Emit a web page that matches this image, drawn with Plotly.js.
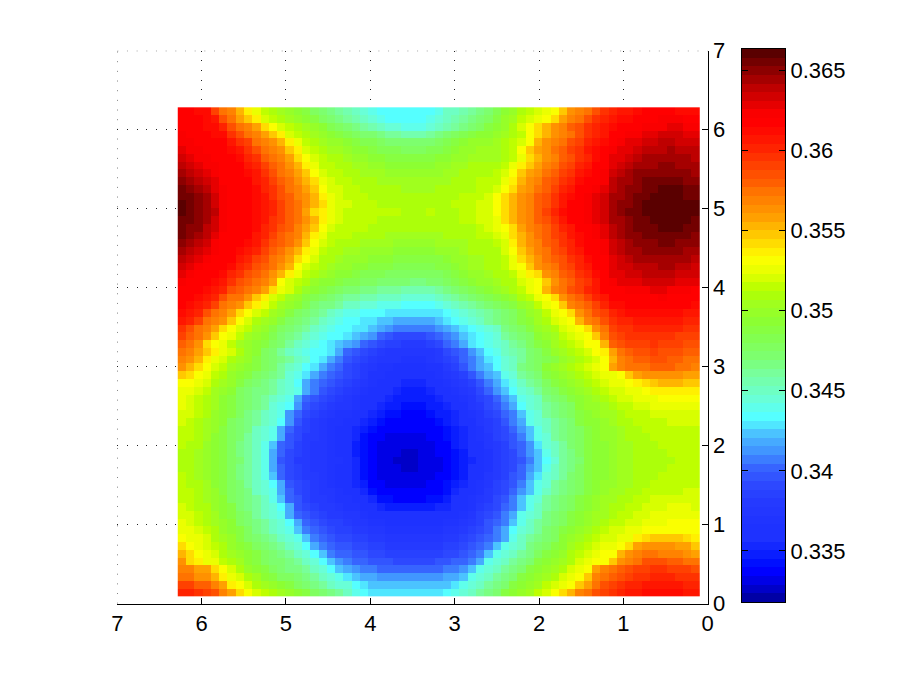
<!DOCTYPE html>
<html>
<head>
<meta charset="utf-8">
<script src="https://cdn.plot.ly/plotly-3.0.1.min.js"></script>
<style>
    html, body { margin: 0; padding: 0; background: #fff; }
</style>
</head>
<body>
<div id="output" style="width:905px;height:681px;"></div>
<script>
// colour band (0-63) of each cell, top row first, left column first
const bandRows = [
[55,55,54,54,50,47,46,43,40,38, 36,35,34,33,32,31,29,28,27,26, 25,24,23,22,21,21,21,21,21,21, 21,22,24,24,25,26,27,28,30,32, 33,35,36,37,38,39,42,45,46,47, 49,51,52,53,53,54,55,55,55,55,54,54,54],
[55,55,55,54,53,49,47,44,42,40, 37,36,35,34,33,32,31,29,28,27, 26,25,24,23,22,21,21,21,21,21, 22,23,24,25,26,27,28,29,31,33, 34,36,37,38,39,41,44,46,47,49, 51,52,53,54,54,55,55,55,56,56,56,55,55],
[55,55,55,54,54,52,49,47,46,44, 41,39,37,36,35,34,33,32,30,29, 28,27,26,25,24,23,23,22,22,22, 23,24,25,26,27,28,29,31,32,33, 35,37,39,41,43,45,46,48,49,51, 52,53,54,55,55,55,56,56,56,57,57,56,56],
[56,55,55,55,54,54,51,49,47,46, 44,42,40,37,36,35,34,33,32,31, 30,29,28,28,27,26,26,25,25,25, 26,27,28,29,30,31,32,32,33,34, 35,36,39,41,43,45,46,47,49,51, 52,53,55,55,56,56,57,57,58,58,58,57,57],
[56,56,55,55,55,55,53,51,50,47, 46,45,43,40,38,36,35,34,33,33, 32,31,30,30,29,28,28,28,28,28, 28,29,30,31,32,33,33,33,34,35, 36,37,39,43,45,46,47,49,50,52, 53,54,55,56,57,57,58,58,59,59,58,58,58],
[57,56,56,55,55,55,54,53,51,49, 47,46,45,42,40,37,36,35,34,34, 33,32,32,31,30,30,30,29,29,29, 30,30,31,32,33,33,34,34,34,35, 36,39,42,44,45,47,48,50,51,53, 54,55,56,57,57,58,59,59,59,60,59,59,59],
[58,57,56,56,55,55,55,54,52,51, 48,47,46,44,41,39,37,36,35,35, 34,33,33,32,32,31,31,31,31,31, 31,32,32,33,33,34,34,34,34,35, 36,38,41,43,45,46,48,49,51,52, 54,55,57,57,58,59,60,60,60,60,60,60,59],
[59,58,57,56,56,55,55,55,53,52, 50,48,47,45,43,40,38,36,36,35, 35,34,34,33,33,32,32,32,32,32, 32,33,33,34,34,35,35,35,35,36, 38,40,42,44,46,47,49,50,52,53, 55,55,57,58,59,60,60,60,61,61,60,60,60],
[60,59,58,57,56,55,55,55,54,53, 51,49,47,46,44,42,39,37,36,36, 35,35,34,34,34,33,33,33,33,33, 33,33,34,34,35,35,35,35,36,37, 39,42,44,45,47,48,50,51,53,54, 55,56,58,59,60,61,61,61,61,61,61,61,60],
[61,60,59,58,57,55,55,55,55,53, 52,50,48,47,45,43,41,38,37,36, 36,35,35,35,34,34,34,34,34,34, 34,34,34,35,35,35,36,36,36,38, 40,43,45,46,48,49,51,52,54,55, 55,56,59,60,60,61,62,62,62,62,62,61,61],
[62,61,60,59,57,56,55,55,55,54, 52,51,49,47,46,44,42,39,37,37, 36,36,35,35,35,35,35,34,34,34, 34,35,35,35,35,35,36,36,37,39, 41,44,45,47,48,50,52,53,55,55, 56,57,59,60,61,61,62,62,63,63,63,62,62],
[62,62,61,60,58,56,55,55,55,54, 53,51,49,48,46,45,43,40,38,37, 36,36,36,35,35,35,35,35,35,35, 35,35,35,35,36,36,36,37,39,41, 43,45,46,48,49,51,53,54,55,56, 57,58,60,60,61,62,62,63,63,63,63,62,62],
[63,62,61,60,58,56,55,55,55,54, 53,52,50,48,47,45,43,41,38,37, 37,36,36,36,35,35,35,35,35,35, 35,35,35,36,36,36,37,37,39,41, 43,45,46,48,49,51,53,55,55,56, 57,58,60,61,61,62,63,63,63,63,63,63,63],
[63,62,61,60,59,56,55,55,55,54, 53,52,50,48,47,44,41,40,38,37, 36,36,36,36,36,36,36,35,35,35, 36,35,35,35,36,36,37,37,39,41, 43,45,46,48,50,52,54,55,55,56, 57,58,60,61,62,62,63,63,63,63,63,63,63],
[62,62,61,60,58,56,55,55,55,54, 53,51,50,48,47,45,43,40,38,37, 36,36,36,36,35,35,35,35,35,35, 35,35,35,35,36,36,37,37,38,41, 43,45,46,48,49,51,53,55,55,56, 57,58,60,60,61,62,62,63,63,63,63,63,62],
[62,61,61,59,58,56,55,55,55,54, 52,51,49,48,46,44,42,39,37,36, 36,36,36,35,35,35,35,35,35,35, 35,35,35,35,35,35,36,37,38,39, 41,44,46,47,48,50,52,53,55,55, 56,57,59,60,61,62,62,62,63,63,63,62,62],
[62,61,60,59,57,55,55,55,55,53, 52,50,48,47,46,43,40,38,36,36, 36,35,35,35,35,34,34,34,34,34, 34,34,35,35,35,35,36,36,37,38, 41,43,45,47,48,50,51,53,54,55, 56,57,59,60,61,61,62,62,62,62,62,62,61],
[61,60,59,58,56,55,55,55,54,53, 51,49,48,47,45,42,39,37,36,35, 35,35,34,34,34,34,33,33,33,33, 33,34,34,34,34,35,35,35,36,37, 40,43,45,46,48,49,51,52,54,55, 55,56,58,59,60,61,61,61,62,62,61,61,61],
[60,59,58,57,56,55,55,54,53,52, 50,48,47,45,43,40,38,36,35,35, 34,34,33,33,33,33,32,32,32,32, 32,33,33,33,34,35,35,35,35,37, 39,42,44,46,47,49,50,52,53,55, 55,56,58,59,60,60,61,61,61,61,61,60,60],
[59,58,57,56,55,55,55,53,52,50, 49,47,46,44,41,39,37,35,35,34, 33,33,33,32,32,32,31,31,31,31, 31,31,32,33,33,34,34,35,35,36, 38,41,43,45,47,48,49,51,52,54, 55,55,57,58,59,60,60,60,60,60,60,60,59],
[58,57,56,55,55,55,54,52,51,49, 48,47,45,43,39,37,36,35,34,33, 33,32,32,31,31,31,30,30,30,30, 30,31,31,32,33,34,34,35,35,36, 38,39,42,45,46,47,49,50,52,53, 55,55,57,58,58,59,59,59,60,60,59,59,58],
[57,56,55,55,55,54,52,51,49,48, 47,45,43,40,38,36,35,34,33,32, 32,31,30,30,30,29,29,29,29,29, 29,29,30,31,32,33,33,34,35,35, 36,38,40,41,45,46,48,49,51,52, 54,55,57,57,58,58,59,59,59,59,58,58,58],
[56,55,55,55,54,53,51,49,48,47, 46,44,39,37,36,35,33,32,32,31, 30,30,29,29,28,28,28,28,27,27, 28,28,29,30,31,32,33,33,34,35, 35,37,38,39,42,45,47,48,50,51, 53,55,56,57,57,57,58,58,58,58,57,57,57],
[55,55,55,54,53,52,49,48,47,46, 44,41,38,37,35,33,32,31,30,29, 28,28,27,27,26,26,26,25,25,25, 25,26,27,28,29,30,31,32,33,34, 35,36,38,39,43,46,47,49,50,52, 53,55,55,55,56,56,56,57,57,56,56,56,55],
[55,55,54,53,52,49,47,47,45,42, 40,37,36,34,33,31,30,29,28,27, 26,26,25,25,24,24,24,23,23,23, 23,24,25,26,27,28,29,30,31,32, 33,35,36,38,39,41,45,47,48,50, 52,53,55,55,55,55,55,55,56,55,55,55,55],
[55,54,53,52,50,47,46,45,42,40, 38,36,34,33,32,30,28,27,27,26, 24,24,23,23,22,22,22,21,21,21, 21,22,23,24,25,26,27,28,29,30, 31,33,34,36,38,39,42,46,47,48, 50,52,54,54,55,55,55,55,55,55,55,55,54],
[54,53,52,49,47,46,44,41,39,37, 36,34,33,31,29,28,27,26,24,23, 22,22,21,21,21,20,20,20,20,20, 20,20,21,22,23,24,25,26,27,28, 29,31,33,34,36,38,39,41,45,47, 49,50,52,53,54,54,54,54,54,54,54,53,53],
[53,52,50,47,46,45,42,39,37,35, 34,33,31,29,28,27,26,24,23,22, 21,21,20,20,19,19,18,18,18,18, 18,19,20,21,22,23,24,26,27,28, 29,31,32,34,35,37,38,39,43,46, 47,49,51,52,52,53,53,53,53,53,53,52,52],
[51,49,47,46,44,41,39,37,36,34, 33,31,29,28,27,26,24,23,22,21, 21,20,20,19,18,17,16,16,16,16, 16,17,18,19,20,21,22,23,24,27, 28,29,31,33,34,35,37,38,39,41, 45,47,50,51,51,52,52,52,52,52,52,51,51],
[50,48,47,45,42,39,38,36,34,33, 32,30,28,27,26,24,23,22,21,21, 20,19,18,17,15,14,13,13,13,13, 14,15,16,17,19,20,21,22,23,26, 27,28,29,32,33,34,36,37,38,39, 42,46,49,50,51,51,51,51,51,51,50,50,50],
[48,47,45,41,39,38,36,34,33,32, 31,29,28,26,24,23,22,21,20,19, 18,17,15,14,13,12,12,11,11,11, 12,13,15,16,18,20,21,22,23,24, 26,27,29,31,32,34,35,36,37,39, 39,43,48,49,50,50,50,51,50,50,50,49,49],
[47,46,44,42,40,38,37,35,33,32, 29,28,26,24,23,22,21,21,20,18, 15,14,13,12,11,10,10,10,10,10, 10,11,13,14,15,17,19,21,22,24, 25,26,28,29,31,33,34,35,36,37, 39,40,44,47,48,49,49,50,49,49,49,48,48],
[46,45,43,40,38,37,35,34,33,31, 29,28,27,26,24,23,21,20,18,16, 14,13,12,11,10,10,10,9,9,9, 10,11,12,13,15,16,18,20,21,23, 24,26,28,29,30,31,33,34,35,36, 37,39,43,46,47,48,48,49,49,48,48,47,47],
[45,43,41,39,37,36,34,33,32,31, 29,28,26,24,23,21,20,18,16,15, 13,12,11,10,9,9,8,8,8,8, 9,9,11,12,14,16,18,19,21,23, 24,27,28,29,32,33,34,35,36,37, 38,39,44,46,47,47,47,48,48,48,47,47,46],
[42,41,39,38,36,35,33,32,31,29, 28,27,26,23,22,20,18,16,15,14, 13,12,11,9,9,8,8,7,7,7, 8,9,10,11,12,14,16,18,19,22, 23,26,27,28,31,32,33,34,35,36, 37,38,38,39,42,44,45,45,45,45,45,44,44],
[39,39,38,37,35,34,33,31,29,28, 27,26,24,23,21,18,16,15,14,13, 12,11,10,9,8,7,7,6,6,6, 7,8,9,10,11,12,14,16,18,20, 22,24,26,27,29,31,32,33,34,35, 36,37,38,38,39,40,41,42,43,43,43,42,42],
[38,38,37,36,34,33,32,29,28,27, 27,26,24,23,22,18,16,14,13,12, 11,10,9,8,7,7,6,5,5,5, 6,7,8,9,10,11,13,15,17,19, 21,23,24,26,28,29,31,32,33,34, 35,36,37,37,38,38,39,40,40,40,40,40,40],
[38,37,36,35,34,32,31,29,28,27, 26,24,23,22,18,15,14,13,12,11, 10,9,8,7,7,6,5,5,5,5, 5,6,7,8,9,10,12,13,15,17, 19,22,23,24,27,28,29,31,32,33, 34,35,36,37,37,38,38,38,39,39,39,39,39],
[38,37,36,35,34,32,31,29,28,27, 26,23,22,21,17,14,13,12,11,10, 10,9,8,7,6,5,5,4,4,4, 5,5,6,7,8,10,11,13,14,16, 18,21,23,24,26,27,28,29,32,33, 33,34,35,36,36,37,37,38,38,38,38,38,38],
[37,37,36,35,33,32,31,29,27,26, 24,23,22,17,15,13,12,11,10,9, 9,8,7,6,5,4,4,3,3,3, 4,5,5,6,8,9,10,12,13,15, 16,19,22,23,26,27,28,29,31,32, 33,34,34,35,36,36,36,37,37,37,37,37,37],
[37,36,35,34,33,32,29,28,27,26, 24,23,21,17,14,12,11,10,9,9, 8,7,6,5,4,3,3,3,3,3, 3,4,5,6,7,8,10,11,12,14, 16,18,22,23,24,26,27,28,31,32, 32,33,34,35,35,36,36,36,36,37,37,37,37],
[36,36,35,34,33,31,29,28,27,24, 23,22,18,15,13,12,11,10,9,8, 7,6,5,4,3,3,3,3,3,3, 3,3,4,5,6,8,9,11,12,13, 15,17,19,22,24,26,27,28,29,31, 32,33,33,34,35,35,36,36,36,36,36,36,36],
[36,36,35,34,32,31,29,28,26,24, 23,22,18,14,13,11,11,10,9,8, 7,6,4,3,3,2,2,2,2,2, 3,3,4,5,6,7,9,10,12,13, 14,16,19,22,23,26,27,28,29,31, 32,33,33,34,35,35,35,36,36,36,36,36,36],
[36,35,35,33,32,31,29,27,26,24, 22,19,15,14,12,11,10,10,9,8, 7,5,4,3,2,2,2,2,2,2, 2,3,3,5,6,7,8,10,11,12, 14,15,17,20,23,24,26,28,29,31, 32,32,33,34,34,35,35,35,36,36,36,36,36],
[35,35,34,33,32,31,29,27,26,24, 22,18,15,13,12,11,10,10,9,8, 7,5,4,3,2,2,2,1,1,2, 2,3,3,4,5,7,8,9,11,12, 13,15,17,19,22,24,26,27,29,31, 32,32,33,34,34,35,35,35,35,36,36,36,36],
[35,35,34,33,32,31,29,28,26,24, 22,18,14,13,11,11,10,10,9,9, 8,6,4,3,2,2,1,1,1,2, 2,2,3,4,5,6,8,9,11,12, 13,14,16,19,21,23,26,27,28,31, 32,32,33,34,34,35,35,35,35,35,36,36,36],
[35,35,34,33,32,31,29,27,26,24, 22,18,15,13,12,11,10,10,9,8, 7,6,4,3,2,2,2,1,1,2, 2,2,3,4,5,7,8,9,11,12, 13,15,17,19,22,24,26,27,29,31, 32,32,33,34,34,35,35,35,35,36,36,36,36],
[36,35,34,33,32,31,29,27,26,24, 22,19,15,13,12,11,11,10,9,8, 7,6,4,3,2,2,2,2,2,2, 2,3,3,4,5,7,8,10,11,12, 14,15,18,20,23,24,26,28,29,31, 32,32,33,34,34,35,35,35,36,36,36,36,36],
[36,35,35,34,32,31,29,28,26,24, 23,21,18,14,13,12,11,10,9,8, 7,6,5,3,3,2,2,2,2,2, 3,3,4,5,6,7,9,10,12,13, 14,16,19,22,23,26,27,28,29,31, 32,33,33,34,34,35,35,36,36,36,36,36,36],
[36,36,35,34,33,31,29,28,27,24, 23,22,18,15,13,12,11,10,10,9, 8,7,6,4,3,3,3,3,3,3, 3,3,4,6,7,8,9,11,12,13, 15,17,19,22,24,26,27,28,29,31, 32,33,34,34,35,35,36,36,36,36,36,37,37],
[36,36,35,34,33,32,29,28,27,26, 24,22,19,15,14,12,11,11,10,9, 9,8,7,6,4,4,3,3,3,3, 4,4,5,7,8,9,10,11,13,14, 16,19,22,23,26,27,28,29,31,32, 33,34,34,35,35,36,36,37,37,37,37,37,37],
[37,36,35,35,33,32,31,28,27,26, 24,23,21,18,14,13,12,11,11,10, 9,9,8,7,6,5,5,5,5,5, 5,6,6,7,8,9,11,12,13,15, 16,19,22,24,26,27,28,29,31,32, 33,34,35,35,36,36,37,37,37,38,38,38,37],
[37,37,36,35,34,32,31,29,28,26, 24,23,22,18,15,14,13,12,11,11, 10,10,9,8,8,7,7,7,7,7, 7,7,8,8,9,10,12,13,14,16, 18,22,23,24,27,28,29,31,32,33, 34,34,35,36,36,37,37,38,38,38,38,38,38],
[38,37,36,35,34,33,32,29,28,27, 26,24,23,21,18,15,14,13,12,12, 11,10,10,9,9,8,8,8,8,8, 8,8,9,9,10,11,12,14,15,16, 19,22,24,26,27,28,29,31,32,33, 34,35,36,36,37,37,38,38,38,39,39,39,39],
[38,38,37,36,35,33,32,31,29,27, 26,24,23,22,19,16,15,14,13,12, 12,11,11,10,10,9,9,9,9,9, 9,9,10,10,11,12,13,14,16,18, 21,23,24,26,28,29,31,32,33,34, 35,36,37,37,38,38,39,39,39,39,39,39,39],
[39,38,38,37,35,34,33,31,29,28, 27,26,24,23,22,19,16,15,14,13, 13,12,12,11,11,10,10,10,10,10, 10,10,11,11,12,13,14,15,16,18, 22,24,26,27,28,29,32,33,34,35, 36,37,37,38,38,40,41,42,42,42,42,41,40],
[41,39,38,37,36,35,33,32,31,29, 28,27,26,24,23,21,18,16,15,14, 14,13,13,12,12,11,11,11,11,11, 11,11,12,12,13,14,15,16,19,22, 23,24,27,28,29,31,32,34,35,36, 37,38,38,39,41,44,45,45,45,45,44,44,42],
[43,41,39,38,37,35,34,33,32,31, 29,28,27,26,24,23,21,19,16,15, 15,14,14,13,13,12,12,12,12,12, 12,12,13,13,14,15,16,19,22,23, 24,26,27,29,31,32,33,35,36,37, 38,39,39,43,45,46,47,47,46,46,46,45,44],
[45,41,40,38,38,36,35,34,32,31, 29,28,28,27,26,24,23,21,19,17, 16,15,15,14,14,14,13,13,13,13, 13,14,14,15,15,16,18,22,23,24, 26,27,28,31,32,33,34,35,37,38, 39,39,42,45,46,47,49,49,49,48,48,47,47],
[46,46,44,44,41,39,37,35,33,32, 31,29,28,27,27,26,24,23,21,19, 18,17,16,16,15,15,15,15,15,15, 15,15,16,16,17,19,22,23,24,26, 27,28,31,32,33,34,35,37,38,39, 44,46,47,48,49,50,50,51,51,50,50,50,49],
[47,47,45,45,43,40,38,37,35,34, 32,31,29,29,28,27,26,24,23,22, 20,19,18,18,17,17,17,17,17,17, 17,17,18,18,19,22,23,24,26,27, 28,31,32,33,34,35,37,38,39,42, 46,47,48,49,50,51,51,52,52,52,51,51,51],
[50,50,48,48,46,44,40,39,37,35, 34,33,32,31,29,28,27,26,24,23, 23,21,20,19,19,19,19,19,19,19, 19,19,19,20,22,23,24,26,27,28, 31,32,33,34,36,37,38,39,42,44, 47,49,50,51,52,52,53,53,53,53,53,52,52],
[52,52,51,50,49,46,44,41,39,37, 36,35,34,33,32,31,29,28,27,26, 24,22,21,20,20,20,20,20,20,20, 20,20,21,22,23,24,26,27,28,31, 32,33,34,36,37,39,41,43,46,47, 49,50,51,52,53,53,54,54,54,54,54,53,53]
];

// colorbar bands bottom to top, as they look in the picture
const bandColors = [
[0,0,165],[0,0,200],[0,0,230],[0,0,255],[0,15,255],[10,30,255],[20,40,255],[30,50,255],
[30,50,255],[32,52,255],[35,55,255],[37,58,255],[40,65,255],[45,72,255],[50,85,255],[55,100,255],
[60,125,255],[65,150,255],[70,170,255],[75,195,255],[80,230,255],[85,255,255],[95,255,235],[105,255,215],
[110,255,195],[115,255,175],[120,255,155],[122,255,130],[125,255,110],[128,255,95],[130,255,80],[135,255,65],
[140,255,50],[150,255,40],[160,255,30],[172,255,10],[190,255,0],[215,255,0],[235,255,0],[250,255,0],
[255,240,0],[255,220,0],[255,200,0],[255,180,0],[255,160,0],[255,145,0],[255,130,0],[255,115,0],
[255,95,0],[255,80,0],[255,65,0],[255,50,0],[255,35,0],[255,22,0],[255,10,0],[255,0,0],
[250,0,0],[230,0,0],[210,0,0],[190,0,0],[165,0,0],[140,0,0],[115,0,0],[90,0,0]
];

const xTicks = [0, 1, 2, 3, 4, 5, 6, 7];
const yTicks = [0, 1, 2, 3, 4, 5, 6, 7];
const barTicks = [0.335, 0.34, 0.345, 0.35, 0.355, 0.36, 0.365];
const barLabels = ['0.335', '0.34', '0.345', '0.35', '0.355', '0.36', '0.365'];

const zMin = 0.3318;
const zMax = 0.36631;
const nBands = bandColors.length;
const zStep = (zMax - zMin) / nBands;
const cellSize = 2 * Math.PI / 64;

function band_value(band) {
    return zMin + (band + 0.5) * zStep;
}

function stepped_scale() {
    let scale = [];
    bandColors.forEach((c, k) => {
        let color = `rgb(${c[0]},${c[1]},${c[2]})`;
        scale.push([k / nBands, color]);
        scale.push([(k + 1) / nBands, color]);
    });
    return scale;
}

const colorScale = stepped_scale();
const barValues = bandColors.map((c, k) => band_value(k));

let surface = {
    type: 'heatmap',
    z: bandRows.map(row => row.map(band_value)),
    x0: 2 * Math.PI - cellSize / 2,
    dx: -cellSize,
    y0: 2 * Math.PI - cellSize / 2,
    dy: -cellSize,
    colorscale: colorScale,
    zmin: zMin,
    zmax: zMax,
    showscale: false,
    hoverinfo: 'skip'
};

let bar = {
    type: 'heatmap',
    z: barValues.map(v => [v]),
    x: [0],
    y: barValues,
    xaxis: 'x2',
    yaxis: 'y2',
    colorscale: colorScale,
    zmin: zMin,
    zmax: zMax,
    showscale: false,
    hoverinfo: 'skip'
};

const W = 905, H = 681;
let tickFont = { family: '"Liberation Sans", Arial, sans-serif', size: 22, color: '#000' };
let gridDash = '1px,8.67px';

let layout = {
    width: W,
    height: H,
    margin: { l: 0, r: 0, t: 0, b: 0 },
    paper_bgcolor: '#fff',
    plot_bgcolor: '#fff',
    showlegend: false,
    xaxis: {
        domain: [117.3 / W, 707.7 / W],
        range: [7, 0],
        tickvals: xTicks,
        ticks: 'inside',
        ticklen: 6,
        tickwidth: 1,
        tickcolor: '#000',
        showline: true,
        linecolor: '#000',
        linewidth: 1,
        showgrid: true,
        gridcolor: '#222',
        griddash: gridDash,
        gridwidth: 1,
        zeroline: false,
        tickfont: tickFont
    },
    yaxis: {
        domain: [(H - 603.7) / H, (H - 50.7) / H],
        range: [0, 7],
        side: 'right',
        tickvals: yTicks,
        ticks: 'inside',
        ticklen: 6,
        tickwidth: 1,
        tickcolor: '#000',
        showline: true,
        linecolor: '#000',
        linewidth: 1,
        showgrid: true,
        gridcolor: '#222',
        griddash: gridDash,
        gridwidth: 1,
        zeroline: false,
        tickfont: tickFont
    },
    xaxis2: {
        domain: [741.5 / W, 785 / W],
        range: [-0.5, 0.5],
        anchor: 'y2',
        showticklabels: false,
        ticks: '',
        showgrid: false,
        zeroline: false,
        showline: true,
        mirror: true,
        linecolor: '#000',
        linewidth: 1
    },
    yaxis2: {
        domain: [(H - 602.3) / H, (H - 49) / H],
        range: [zMin, zMax],
        anchor: 'x2',
        side: 'right',
        tickvals: barTicks,
        ticktext: barLabels,
        ticks: 'inside',
        ticklen: 6,
        tickwidth: 1,
        tickcolor: '#000',
        showgrid: false,
        zeroline: false,
        showline: true,
        mirror: 'ticks',
        linecolor: '#000',
        linewidth: 1,
        tickfont: tickFont
    },
    // plotly drops the grid lines at the far ends of the axes, these are the ones at 7
    shapes: [
        { type: 'line', layer: 'below', xref: 'x', yref: 'y', x0: 7, x1: 7, y0: 0, y1: 7, line: { color: '#222', width: 1, dash: gridDash } },
        { type: 'line', layer: 'below', xref: 'x', yref: 'y', x0: 7, x1: 0, y0: 7, y1: 7, line: { color: '#222', width: 1, dash: gridDash } }
    ]
};

Plotly.newPlot('output', [surface, bar], layout, { displayModeBar: false, staticPlot: true });
</script>
</body>
</html>
